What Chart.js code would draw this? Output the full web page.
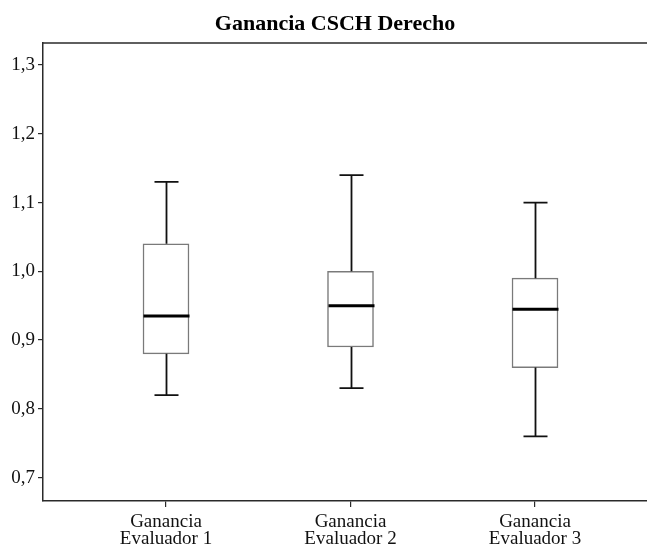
<!DOCTYPE html>
<html>
<head>
<meta charset="utf-8">
<title>Ganancia CSCH Derecho</title>
<script src="https://cdn.jsdelivr.net/npm/chart.js@4/dist/chart.umd.min.js"></script>
<style>
  html, body { margin: 0; padding: 0; background: #fff; }
  #wrap { width: 647px; height: 548px; }
</style>
</head>
<body>
<div id="wrap"><canvas id="c" width="647" height="548"></canvas></div>
<script>
// Groups shown along the horizontal axis
const categories = [
  ['Ganancia', 'Evaluador 1'],
  ['Ganancia', 'Evaluador 2'],
  ['Ganancia', 'Evaluador 3']
];
const positions = [1, 2, 3];

// Five-number summaries per group
const whiskerLow  = [0.82, 0.83, 0.76];
const q1          = [0.88, 0.89, 0.86];
const median      = [0.935, 0.95, 0.945];
const q3          = [1.04, 1.00, 0.99];
const whiskerHigh = [1.13, 1.14, 1.10];

// Value axis tick marks
const yTicks = [0.7, 0.8, 0.9, 1.0, 1.1, 1.2, 1.3];

const TITLE = 'Ganancia CSCH Derecho';
const BOX_WIDTH = 46;
const CAP_HALF = 12;
const FRAME = '#2a2a2a';
const SERIF = "'Liberation Serif', 'Times New Roman', serif";

// Whiskers, caps, medians, the top frame line and the heading
const boxExtras = {
  id: 'boxExtras',
  afterDatasetsDraw(chart) {
    const { ctx, scales: { x, y }, chartArea } = chart;
    ctx.save();
    ctx.lineCap = 'butt';
    positions.forEach((p, i) => {
      const cx = Math.round(x.getPixelForValue(p)) + 0.5;
      ctx.strokeStyle = '#111';
      ctx.lineWidth = 1.8;
      ctx.beginPath();
      // upper whisker
      ctx.moveTo(cx, y.getPixelForValue(q3[i]));
      ctx.lineTo(cx, y.getPixelForValue(whiskerHigh[i]));
      ctx.moveTo(cx - CAP_HALF, y.getPixelForValue(whiskerHigh[i]));
      ctx.lineTo(cx + CAP_HALF, y.getPixelForValue(whiskerHigh[i]));
      // lower whisker
      ctx.moveTo(cx, y.getPixelForValue(q1[i]));
      ctx.lineTo(cx, y.getPixelForValue(whiskerLow[i]));
      ctx.moveTo(cx - CAP_HALF, y.getPixelForValue(whiskerLow[i]));
      ctx.lineTo(cx + CAP_HALF, y.getPixelForValue(whiskerLow[i]));
      ctx.stroke();
      // median
      ctx.strokeStyle = '#000';
      ctx.lineWidth = 3;
      ctx.beginPath();
      const my = y.getPixelForValue(median[i]);
      ctx.moveTo(cx - BOX_WIDTH / 2, my);
      ctx.lineTo(cx + BOX_WIDTH / 2, my);
      ctx.stroke();
    });
    // top frame line
    ctx.strokeStyle = FRAME;
    ctx.lineWidth = 1.5;
    ctx.beginPath();
    ctx.moveTo(chartArea.left, chartArea.top);
    ctx.lineTo(chart.width, chartArea.top);
    ctx.stroke();
    // heading, centred over the full plotting frame
    ctx.fillStyle = '#000';
    ctx.font = 'bold 22px ' + SERIF;
    ctx.textAlign = 'center';
    ctx.textBaseline = 'middle';
    ctx.fillText(TITLE, 335, 24);
    ctx.restore();
  }
};

new Chart(document.getElementById('c'), {
  type: 'bar',
  data: {
    datasets: [{
      data: positions.map((p, i) => ({ x: p, y: [q1[i], q3[i]] })),
      backgroundColor: '#ffffff',
      borderColor: '#7a7a7a',
      borderWidth: 1.5,
      borderSkipped: false,
      barThickness: BOX_WIDTH
    }]
  },
  options: {
    responsive: false,
    animation: false,
    layout: { padding: { top: 43, left: 0, right: 0, bottom: 0 } },
    plugins: {
      legend: { display: false },
      tooltip: { enabled: false },
      title: { display: false }
    },
    scales: {
      x: {
        type: 'linear',
        offset: false,
        min: 1 / 3,
        max: 3.607,
        afterBuildTicks(scale) { scale.ticks = positions.map(v => ({ value: v })); },
        afterFit(scale) { scale.height = 47; },
        grid: {
          offset: false,
          drawOnChartArea: false,
          drawTicks: true,
          tickLength: 6,
          tickColor: FRAME,
          lineWidth: 1.2
        },
        border: { display: true, color: FRAME, width: 1.5 },
        ticks: {
          autoSkip: false,
          maxRotation: 0,
          padding: 6,
          color: '#111',
          font: { family: SERIF, size: 19, lineHeight: 0.92 },
          callback(value) {
            const i = positions.indexOf(value);
            return i >= 0 ? categories[i] : '';
          }
        }
      },
      y: {
        type: 'linear',
        min: 0.666,
        max: 1.332,
        afterBuildTicks(scale) { scale.ticks = yTicks.map(v => ({ value: v })); },
        afterFit(scale) { scale.width = 43; },
        grid: {
          drawOnChartArea: false,
          drawTicks: true,
          tickLength: 5,
          tickColor: FRAME,
          lineWidth: 1.2
        },
        border: { display: true, color: FRAME, width: 1.5 },
        ticks: {
          padding: 3,
          color: '#111',
          font: { family: SERIF, size: 19 },
          callback(value) { return value.toFixed(1).replace('.', ','); }
        }
      }
    }
  },
  plugins: [boxExtras]
});
</script>
</body>
</html>
